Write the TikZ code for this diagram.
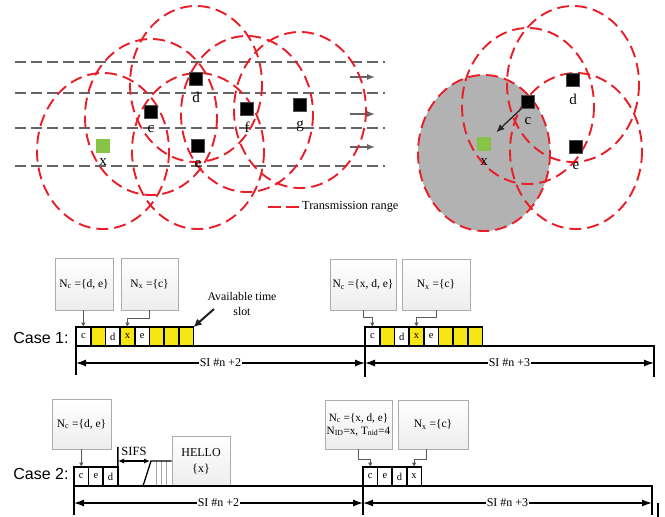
\documentclass[tikz,border=0pt]{standalone}
\usepackage{fontspec}
\setmainfont{Liberation Serif}
\newfontfamily\casefont{Liberation Sans}
\usetikzlibrary{arrows.meta,calc}
\definecolor{rangered}{RGB}{232,30,40}
\definecolor{lanegray}{RGB}{100,100,100}
\definecolor{newgreen}{RGB}{135,195,70}
\definecolor{slotyellow}{RGB}{245,230,20}
\tikzset{
  txrange/.style={draw=rangered, line width=1.9pt, dash pattern=on 12pt off 6pt},
  laneline/.style={draw=lanegray, line width=1.6pt, dash pattern=on 11pt off 5pt},
  vehicle/.style={fill=black, draw=gray!60!black, line width=0.6pt, minimum size=13pt, inner sep=0pt},
  newcomer/.style={fill=newgreen, minimum size=14pt, inner sep=0pt},
  vlabel/.style={font=\fontsize{15}{15}\selectfont, inner sep=0pt},
  headarrow/.style={draw=lanegray, line width=1.2pt, -{Latex[length=8pt,width=6pt]}},
  slotbox/.style={draw, line width=1.6pt, minimum width=14.7pt, minimum height=19pt, inner sep=0pt, outer sep=0pt, font=\fontsize{10.5}{10.5}\selectfont},
  infobox/.style={draw=gray!65, line width=0.8pt, top color=white, bottom color=gray!14, inner sep=0pt, font=\fontsize{11.5}{13}\selectfont, align=center},
  pointer/.style={draw=gray!70!black, line width=0.7pt, -{Latex[length=4.5pt,width=4.5pt]}},
  axisline/.style={line width=1.8pt},
  spanarrow/.style={line width=1.3pt, {Latex[length=10pt,width=7pt]}-{Latex[length=10pt,width=7pt]}},
  spanlabel/.style={fill=white, inner sep=1pt, font=\fontsize{12}{12}\selectfont},
  caselabel/.style={font=\casefont\fontsize{16}{16}\selectfont, inner sep=0pt},
}
\begin{document}
\begin{tikzpicture}[x=1pt,y=-1pt]
\useasboundingbox (0,0) rectangle (665,517);

% ---------- road scene: vehicles and their transmission ranges ----------
\begin{scope}
\clip (0,0) rectangle (665,232);
\foreach \y in {62,93,128,166} \draw[laneline] (15,\y) -- (385,\y);
\draw[headarrow] (350,77) -- (375,77);
\draw[headarrow] (350,114) -- (375,114);
\draw[headarrow] (350,147) -- (375,147);

\node[vehicle] (d) at (196,79) {};
\node[vehicle] (c) at (151,112) {};
\node[vehicle] (f) at (247,109) {};
\node[vehicle] (g) at (300,105) {};
\node[vehicle] (e) at (198,146) {};
\node[newcomer] (x) at (103,146) {};

\foreach \v in {x,c,d,e,f,g}
  \draw[txrange] ([yshift=-5pt]\v.center) ellipse[x radius=66, y radius=78];

\foreach \v in {x,c,d,e,f,g} \node[vehicle] at (\v) {};
\node[newcomer] at (x) {};
\node[vlabel] at (196,97) {d};
\node[vlabel] at (151,129) {c};
\node[vlabel] at (247,127) {f};
\node[vlabel] at (300,126) {g};
\node[vlabel] at (198,164) {e};
\node[vlabel] at (103,162) {x};

% legend
\draw[txrange, dash pattern=on 13pt off 5pt] (268,207) -- (302,207);
\node[anchor=west, inner sep=0pt, font=\fontsize{12.3}{12}\selectfont] (legend) at (302,207) {Transmission range};

% neighbourhood of the new vehicle x
\node[vehicle] (c2) at (528,102) {};
\node[vehicle] (d2) at (573,80) {};
\node[vehicle] (e2) at (576,147) {};
\node[newcomer] (x2) at (484,144) {};
\filldraw[txrange, fill=gray!60] ([yshift=-9pt]x2.center) ellipse[x radius=66, y radius=78];
\foreach \v in {c2,d2,e2}
  \draw[txrange] ([yshift=-4pt]\v.center) ellipse[x radius=66, y radius=78];
\foreach \v in {c2,d2,e2} \node[vehicle] at (\v) {};
\node[newcomer] at (x2) {};
\node[vlabel] at (528,121) {c};
\node[vlabel] at (573,99) {d};
\node[vlabel] at (576,166) {e};
\node[vlabel] at (484,162) {x};
\draw[draw=gray!30!black, line width=1.3pt, -{Latex[length=8pt,width=7pt]}] (c2.south west) -- ($(c2)!0.72!(x2)$);
\end{scope}

% ---------- Case 1 ----------
\node[caselabel] (case1) at (41,338) {Case 1:};
\foreach \lab/\col [count=\i from 0] in {c/white, /slotyellow, d/white, x/slotyellow, e/white, /slotyellow, /slotyellow, /slotyellow}
  \node[slotbox, fill=\col] (ca\i) at ({83.35+14.7*\i},336.5) {\lab};
\foreach \lab/\col [count=\i from 0] in {c/white, /slotyellow, d/white, x/slotyellow, e/white, /slotyellow, /slotyellow, /slotyellow}
  \node[slotbox, fill=\col] (cb\i) at ({372.35+14.7*\i},336.5) {\lab};

\node[infobox, minimum width=58pt, minimum height=52pt] (nca) at (84,284) {N\textsubscript{c} =\{d, e\}};
\node[infobox, minimum width=57pt, minimum height=52pt] (nxa) at (149.5,284) {N\textsubscript{x} =\{c\}};
\node[infobox, minimum width=66pt, minimum height=51pt] (ncb) at (363,284.5) {N\textsubscript{c} =\{x, d, e\}};
\node[infobox, minimum width=68pt, minimum height=51pt] (nxb) at (436,284.5) {N\textsubscript{x} =\{c\}};

\draw[pointer] (ca0.north |- nca.south) -- (ca0.north);
\draw[pointer] (nxa.south) -- ++(0,8) -| (ca3.north);
\draw[pointer] (ncb.south) -- ++(0,7) -| (cb0.north);
\draw[pointer] (nxb.south) -- ++(0,7) -| (cb3.north);

\node[font=\fontsize{11.8}{15}\selectfont, align=center, inner sep=0pt] (avail) at (242,304) {Available time\\slot};
\coordinate (availtail) at (214,309);
\draw[draw=gray!25!black, line width=2pt, -{Latex[length=8pt,width=8pt]}] (availtail) -- (ca7.north east);

\coordinate (L1) at (76,375);
\coordinate (M1) at (365,377);
\coordinate (R1top) at (654,346);
\coordinate (R1) at (654,377);
\draw[axisline] (ca0.north west) -- (L1);
\draw[axisline] (cb0.north west) -- (M1);
\draw[axisline] (ca0.south west) -- (R1top) -- (R1);
\coordinate (A1) at (76,363);
\coordinate (B1) at (365,363);
\coordinate (C1) at (654,363);
\draw[spanarrow] (A1) -- node[spanlabel] {SI \#n +2} (B1);
\draw[spanarrow] (B1) -- node[spanlabel] {SI \#n +3} (C1);

% ---------- Case 2 ----------
\node[caselabel] (case2) at (41,474) {Case 2:};
\foreach \lab [count=\i from 0] in {c, e, d}
  \node[slotbox, minimum width=14.6pt] (da\i) at ({81.3+14.6*\i},476.5) {\lab};
\foreach \lab [count=\i from 0] in {c, e, d, x}
  \node[slotbox, minimum width=14.6pt] (db\i) at ({370.3+14.6*\i},476.5) {\lab};

\node[infobox, minimum width=59pt, minimum height=50pt] (nc2a) at (81.5,424) {N\textsubscript{c} =\{d, e\}};
\node[infobox, minimum width=58pt, minimum height=50pt, font=\fontsize{12}{16}\selectfont] (hello) at (201,461) {HELLO\\\{x\}};
\node[infobox, minimum width=67pt, minimum height=49pt, font=\fontsize{11.2}{13}\selectfont] (nc2b) at (358.5,424.5) {N\textsubscript{c} =\{x, d, e\}\\N\textsubscript{ID}=x, T\textsubscript{nid}=4};
\node[infobox, minimum width=70pt, minimum height=49pt] (nx2b) at (433,424.5) {N\textsubscript{x} =\{c\}};

\draw[pointer] (da0.north |- nc2a.south) -- (da0.north);
\draw[pointer] (nc2b.south) -- ++(0,10) -| (db0.north);
\draw[pointer] ([xshift=-7pt]nx2b.south) -- ++(0,10) -| (db3.north);

% SIFS gap and contention ramp before the HELLO frame
\coordinate (sifstop) at (118,447);
\draw[line width=1.5pt] (da2.north east) -- (sifstop);
\coordinate (sa) at (118,461);
\coordinate (sb) at (150,461);
\draw[line width=1.1pt, {Latex[length=6pt,width=5pt]}-{Latex[length=6pt,width=5pt]}] (sa) -- (sb);
\node[font=\fontsize{12.5}{12}\selectfont, inner sep=0pt] (sifs) at (134,451) {SIFS};
\foreach \xx in {156,161,166} \draw[gray!70, line width=0.7pt] (\xx,461) -- (\xx,486);
\coordinate (r0) at (143,486);
\coordinate (r1) at (151,461);
\draw[line width=1.3pt] (r0) -- (r1) -- (hello.west |- r1);

\coordinate (L2) at (74,515);
\coordinate (M2) at (363,515);
\coordinate (R2top) at (652,486);
\coordinate (R2) at (652,515);
\draw[axisline] (da0.north west) -- (L2);
\draw[axisline] (db0.north west) -- (M2);
\draw[axisline] (da0.south west) -- (R2top) -- (R2);
\coordinate (A2) at (74,503);
\coordinate (B2) at (363,503);
\coordinate (C2) at (652,503);
\draw[spanarrow] (A2) -- node[spanlabel] {SI \#n +2} (B2);
\draw[spanarrow] (B2) -- node[spanlabel] {SI \#n +3} (C2);
\coordinate (tick0) at (658,503);
\coordinate (tick1) at (658,517);
\draw[line width=1.6pt] (tick0) -- (tick1);
\end{tikzpicture}
\end{document}
